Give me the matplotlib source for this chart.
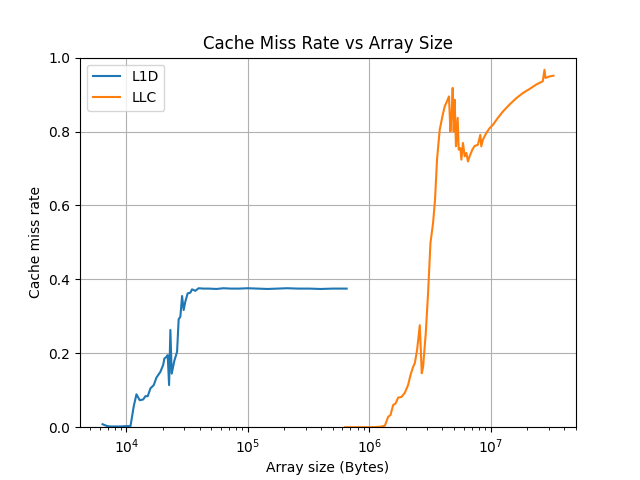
import matplotlib
matplotlib.use("Agg")
import matplotlib.pyplot as plt

# L1D miss rate vs array size (bytes)
l1d_size = [6350, 6940, 7390, 8930, 10000, 10790, 11480, 12080, 12860, 13720,
            14330, 14960, 15750, 16770, 17640, 19030, 20030, 20530, 21320, 21850,
            22430, 22990, 23570, 24800, 26100, 26900, 27780, 28700, 29570, 30540,
            31900, 33570, 34660, 36900, 39280, 43000, 48000, 55000, 63000, 72000,
            85000, 100000, 120000, 145000, 175000, 210000, 260000, 320000, 400000,
            500000, 580000, 651000]
l1d_rate = [0.008, 0.003, 0.002, 0.002, 0.003, 0.003, 0.057, 0.089, 0.073, 0.075,
            0.084, 0.084, 0.105, 0.114, 0.134, 0.150, 0.168, 0.186, 0.190, 0.195,
            0.114, 0.263, 0.145, 0.180, 0.204, 0.292, 0.299, 0.355, 0.317, 0.340,
            0.362, 0.364, 0.373, 0.369, 0.376, 0.375, 0.375, 0.374, 0.376, 0.375,
            0.375, 0.376, 0.375, 0.374, 0.375, 0.376, 0.375, 0.375, 0.374, 0.375,
            0.375, 0.375]

# LLC miss rate vs array size (bytes)
llc_size = [630200, 693000, 837300, 1011400, 1222400, 1343500, 1430000, 1496000,
            1572000, 1645000, 1728000, 1843000, 1961000, 2087000, 2184000, 2295000,
            2370000, 2476000, 2606000, 2705000, 2773000, 2918000, 3048000, 3189000,
            3350000, 3479000, 3613000, 3803000, 4002000, 4180000, 4366000, 4534000,
            4656000, 4772000, 4863000, 4956000, 5050000, 5176000, 5346000, 5448000,
            5627000, 5734000, 5910000, 6103000, 6302000, 6496000, 6708000, 7059000,
            7373000, 7847000, 8211000, 8367000, 8627000, 9200000, 9795000, 10425000,
            11461000, 12600000, 14300000, 16233000, 18393000, 20871000, 23700000,
            26853000, 27733000, 28262000, 30480000, 32880000]
llc_rate = [0.0, 0.0, 0.0, 0.0, 0.001, 0.004, 0.028, 0.033, 0.060, 0.064,
            0.080, 0.082, 0.093, 0.114, 0.141, 0.163, 0.173, 0.209, 0.276, 0.146,
            0.163, 0.254, 0.362, 0.498, 0.552, 0.615, 0.724, 0.805, 0.841, 0.868,
            0.882, 0.895, 0.800, 0.850, 0.918, 0.800, 0.886, 0.760, 0.837, 0.751,
            0.755, 0.724, 0.769, 0.733, 0.742, 0.719, 0.733, 0.751, 0.761, 0.764,
            0.791, 0.760, 0.778, 0.796, 0.809, 0.818, 0.837, 0.854, 0.873, 0.890,
            0.904, 0.915, 0.927, 0.936, 0.967, 0.945, 0.949, 0.951]

fig, ax = plt.subplots(figsize=(6.4, 4.8), dpi=100)
ax.plot(l1d_size, l1d_rate, label="L1D")
ax.plot(llc_size, llc_rate, label="LLC")
ax.set_xscale("log")
ax.set_ylim(0, 1)
ax.set_xlabel("Array size (Bytes)")
ax.set_ylabel("Cache miss rate")
ax.set_title("Cache Miss Rate vs Array Size")
ax.grid(True)
ax.legend(loc="upper left")
fig.savefig("out.png")
